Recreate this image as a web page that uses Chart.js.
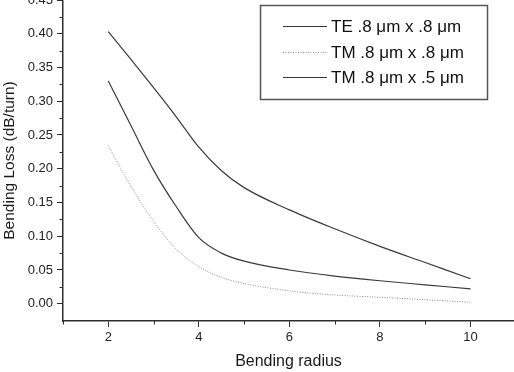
<!DOCTYPE html>
<html>
<head>
<meta charset="utf-8">
<script src="https://cdn.jsdelivr.net/npm/chart.js@4/dist/chart.umd.min.js"></script>
<style>
  html, body { margin: 0; padding: 0; background: #fff; }
  #wrap { width: 514px; height: 372px; position: relative; }
</style>
</head>
<body>
<div id="wrap"><canvas id="c" width="514" height="372"></canvas></div>
<script>
// ---- data ----
const radius = [2, 2.5, 3, 3.5, 4, 4.5, 5, 6, 7, 8, 9, 10];
const teSquare = [0.330, 0.264, 0.198, 0.144, 0.098, 0.075, 0.063, 0.050, 0.041, 0.034, 0.028, 0.022];
const tmSquare = [0.234, 0.174, 0.122, 0.081, 0.055, 0.039, 0.030, 0.019, 0.013, 0.0095, 0.006, 0.002];
const tmRect   = [0.403, 0.362, 0.320, 0.277, 0.232, 0.197, 0.172, 0.139, 0.111, 0.085, 0.061, 0.037];
const seriesLabels = ['TE .8 \u03bcm x .8 \u03bcm', 'TM .8 \u03bcm x .8 \u03bcm', 'TM .8 \u03bcm x .5 \u03bcm'];
const xMajorTicks = [2, 4, 6, 8, 10];
const xMinorTicks = [1, 3, 5, 7, 9];
const yMajorTicks = [0.00, 0.05, 0.10, 0.15, 0.20, 0.25, 0.30, 0.35, 0.40, 0.45];
const yMinorTicks = [0.025, 0.075, 0.125, 0.175, 0.225, 0.275, 0.325, 0.375, 0.425];

const FONT = '"Liberation Sans", Arial, sans-serif';
const AXIS = '#2e2e2e';

const toPts = arr => radius.map((r, i) => ({ x: r, y: arr[i] }));

const minorTicks = {
  id: 'minorTicks',
  afterDraw(chart) {
    const ctx = chart.ctx;
    const xs = chart.scales.x, ys = chart.scales.y;
    ctx.save();
    ctx.strokeStyle = AXIS;
    ctx.lineWidth = 1;
    ctx.beginPath();
    xMinorTicks.forEach(v => {
      const px = Math.round(xs.getPixelForValue(v)) + 0.5;
      ctx.moveTo(px, xs.top);
      ctx.lineTo(px, xs.top + 3.5);
    });
    yMinorTicks.forEach(v => {
      const py = Math.round(ys.getPixelForValue(v)) + 0.5;
      ctx.moveTo(ys.right, py);
      ctx.lineTo(ys.right - 3.5, py);
    });
    ctx.stroke();
    ctx.restore();
  }
};

const boxLegend = {
  id: 'boxLegend',
  afterDraw(chart) {
    const ctx = chart.ctx;
    ctx.save();
    ctx.strokeStyle = '#555';
    ctx.lineWidth = 1.5;
    ctx.strokeRect(260.5, 5.5, 227, 94);
    ctx.font = '17px ' + FONT;
    ctx.textBaseline = 'middle';
    ctx.textAlign = 'left';
    chart.data.datasets.forEach((ds, i) => {
      const y = Math.round(26 + i * 25.7) + 0.5;
      ctx.beginPath();
      ctx.strokeStyle = ds.borderColor;
      ctx.lineWidth = ds.borderWidth;
      ctx.setLineDash(ds.borderDash || []);
      ctx.moveTo(283, y);
      ctx.lineTo(327, y);
      ctx.stroke();
      ctx.setLineDash([]);
      ctx.fillStyle = '#111';
      ctx.fillText(ds.label, 331, y + 1);
    });
    ctx.restore();
  }
};

function zeroPad(scale) {
  scale.paddingTop = 0; scale.paddingBottom = 0;
  scale.paddingLeft = 0; scale.paddingRight = 0;
}

new Chart(document.getElementById('c'), {
  type: 'line',
  data: {
    datasets: [
      { label: seriesLabels[0], data: toPts(teSquare), borderColor: '#3a3a3a', borderWidth: 1.2,
        pointRadius: 0, cubicInterpolationMode: 'monotone', fill: false },
      { label: seriesLabels[1], data: toPts(tmSquare), borderColor: '#8a8a8a', borderWidth: 1,
        borderDash: [1, 1.5], pointRadius: 0, cubicInterpolationMode: 'monotone', fill: false },
      { label: seriesLabels[2], data: toPts(tmRect), borderColor: '#3a3a3a', borderWidth: 1.2,
        pointRadius: 0, cubicInterpolationMode: 'monotone', fill: false }
    ]
  },
  options: {
    responsive: false,
    animation: false,
    devicePixelRatio: 1,
    layout: { padding: 0 },
    plugins: { legend: { display: false }, tooltip: { enabled: false } },
    scales: {
      x: {
        type: 'linear',
        min: 1, max: 10.96,
        afterBuildTicks: s => { s.ticks = xMajorTicks.map(v => ({ value: v })); },
        afterFit: s => { s.height = 51; zeroPad(s); },
        grid: { drawOnChartArea: false, drawTicks: true, tickLength: 6, tickColor: AXIS, tickWidth: 1 },
        border: { display: true, color: AXIS, width: 1.5 },
        ticks: { padding: 3, color: '#222', font: { family: FONT, size: 13 }, maxRotation: 0,
                 callback: v => String(v) },
        title: { display: true, text: 'Bending radius', color: '#1a1a1a',
                 font: { family: FONT, size: 16 }, padding: { top: 0, bottom: 1 } }
      },
      y: {
        type: 'linear',
        min: -0.0256, max: 0.45,
        afterBuildTicks: s => { s.ticks = yMajorTicks.map(v => ({ value: v })); },
        afterFit: s => { s.width = 63; zeroPad(s); },
        grid: { drawOnChartArea: false, drawTicks: true, tickLength: 6, tickColor: AXIS, tickWidth: 1 },
        border: { display: true, color: AXIS, width: 1.5 },
        ticks: { padding: 4, color: '#222', font: { family: FONT, size: 13 },
                 callback: v => Number(v).toFixed(2) },
        title: { display: true, text: 'Bending Loss (dB/turn)', color: '#1a1a1a',
                 font: { family: FONT, size: 15.5 }, padding: { top: 0, bottom: 0 } }
      }
    }
  },
  plugins: [minorTicks, boxLegend]
});
</script>
</body>
</html>
